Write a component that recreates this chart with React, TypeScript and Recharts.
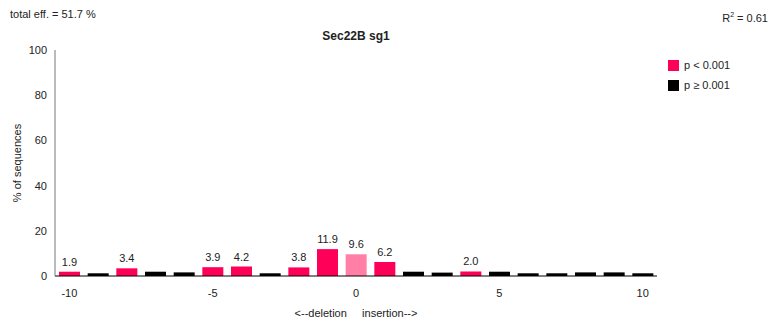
import { BarChart, Bar, XAxis, YAxis, Cell, LabelList, Label } from 'recharts'

// indel size (negative = deletion, positive = insertion)
const positions = [-10, -9, -8, -7, -6, -5, -4, -3, -2, -1, 0, 1, 2, 3, 4, 5, 6, 7, 8, 9, 10]
const percents = [1.9, 1.2, 3.4, 1.9, 1.6, 3.9, 4.2, 1.2, 3.8, 11.9, 9.6, 6.2, 1.9, 1.5, 2.0, 1.9, 1.2, 1.2, 1.6, 1.6, 1.2]
// 2 = wild type (0), 1 = p < 0.001, 0 = p >= 0.001
const significance = [1, 0, 1, 0, 0, 1, 1, 0, 1, 1, 2, 1, 0, 0, 1, 0, 0, 0, 0, 0, 0]
const yTicks = [0, 20, 40, 60, 80, 100]
const xTicks = [-10, -5, 0, 5, 10]

const PINK = '#ff0059'
const LIGHT_PINK = '#ff7fa6'
const FONT = '"Liberation Sans", Arial, Helvetica, sans-serif'

const data = positions.map((x, i) => ({ x, pct: percents[i], sig: significance[i] }))

const colorFor = (sig: number) => (sig === 2 ? LIGHT_PINK : sig === 1 ? PINK : '#000000')

function ValueLabel(props: any) {
  const { x, y, width, value, index } = props
  if (data[index].sig === 0) return null
  return (
    <text x={x + width / 2} y={y - 6} textAnchor="middle" fontSize={11} fill="#222" fontFamily={FONT}>
      {Number(value).toFixed(1)}
    </text>
  )
}

export default function App() {
  return (
    <div style={{ position: 'absolute', left: 0, top: 0, width: 778, height: 324, background: '#fff', fontFamily: FONT }}>
      <BarChart width={778} height={324} data={data} margin={{ top: 50, right: 121, bottom: 23, left: 15 }} barSize={21}>
        <XAxis
          dataKey="x"
          ticks={xTicks}
          interval={0}
          tickFormatter={(v) => (xTicks.includes(Number(v)) ? String(v) : '')}
          tickLine={false}
          axisLine={{ stroke: '#000' }}
          tick={{ fontSize: 11, fill: '#222', fontFamily: FONT, dy: 5 }}
          height={25}
        >
          <Label
            value={'<--deletion\u00a0\u00a0\u00a0\u00a0\u00a0insertion-->'}
            position="bottom"
            offset={8}
            style={{ fontSize: 11, fill: '#222', fontFamily: FONT }}
          />
        </XAxis>
        <YAxis
          domain={[0, 100]}
          ticks={yTicks}
          tickLine={false}
          axisLine={{ stroke: '#777' }}
          tick={{ fontSize: 11, fill: '#222', fontFamily: FONT }}
          width={40}
        >
          <Label value="% of sequences" angle={-90} position="insideLeft" offset={0} dx={2} style={{ fontSize: 11, fill: '#222', fontFamily: FONT, textAnchor: 'middle' }} />
        </YAxis>
        <Bar dataKey="pct" isAnimationActive={false}>
          {data.map((d, i) => (
            <Cell key={`c-${i}`} fill={colorFor(d.sig)} />
          ))}
          <LabelList dataKey="pct" content={ValueLabel} />
        </Bar>
      </BarChart>
      <div style={{ position: 'absolute', left: 10, top: 8, fontSize: 11, color: '#222' }}>total eff. = 51.7 %</div>
      <div style={{ position: 'absolute', right: 10, top: 11, fontSize: 11, color: '#222' }}>
        R<sup style={{ fontSize: 7 }}>2</sup> = 0.61
      </div>
      <div style={{ position: 'absolute', left: 55, width: 602, top: 29, textAlign: 'center', fontSize: 12, fontWeight: 'bold', color: '#222' }}>
        Sec22B sg1
      </div>
      <div style={{ position: 'absolute', left: 668, top: 58, fontSize: 11, color: '#222' }}>
        <div style={{ display: 'flex', alignItems: 'center', height: 14 }}>
          <span style={{ width: 11, height: 11, background: PINK, display: 'inline-block', marginRight: 5 }} />
          p &lt; 0.001
        </div>
        <div style={{ display: 'flex', alignItems: 'center', height: 14, marginTop: 6 }}>
          <span style={{ width: 11, height: 11, background: '#000', display: 'inline-block', marginRight: 5 }} />
          p ≥ 0.001
        </div>
      </div>
    </div>
  )
}
